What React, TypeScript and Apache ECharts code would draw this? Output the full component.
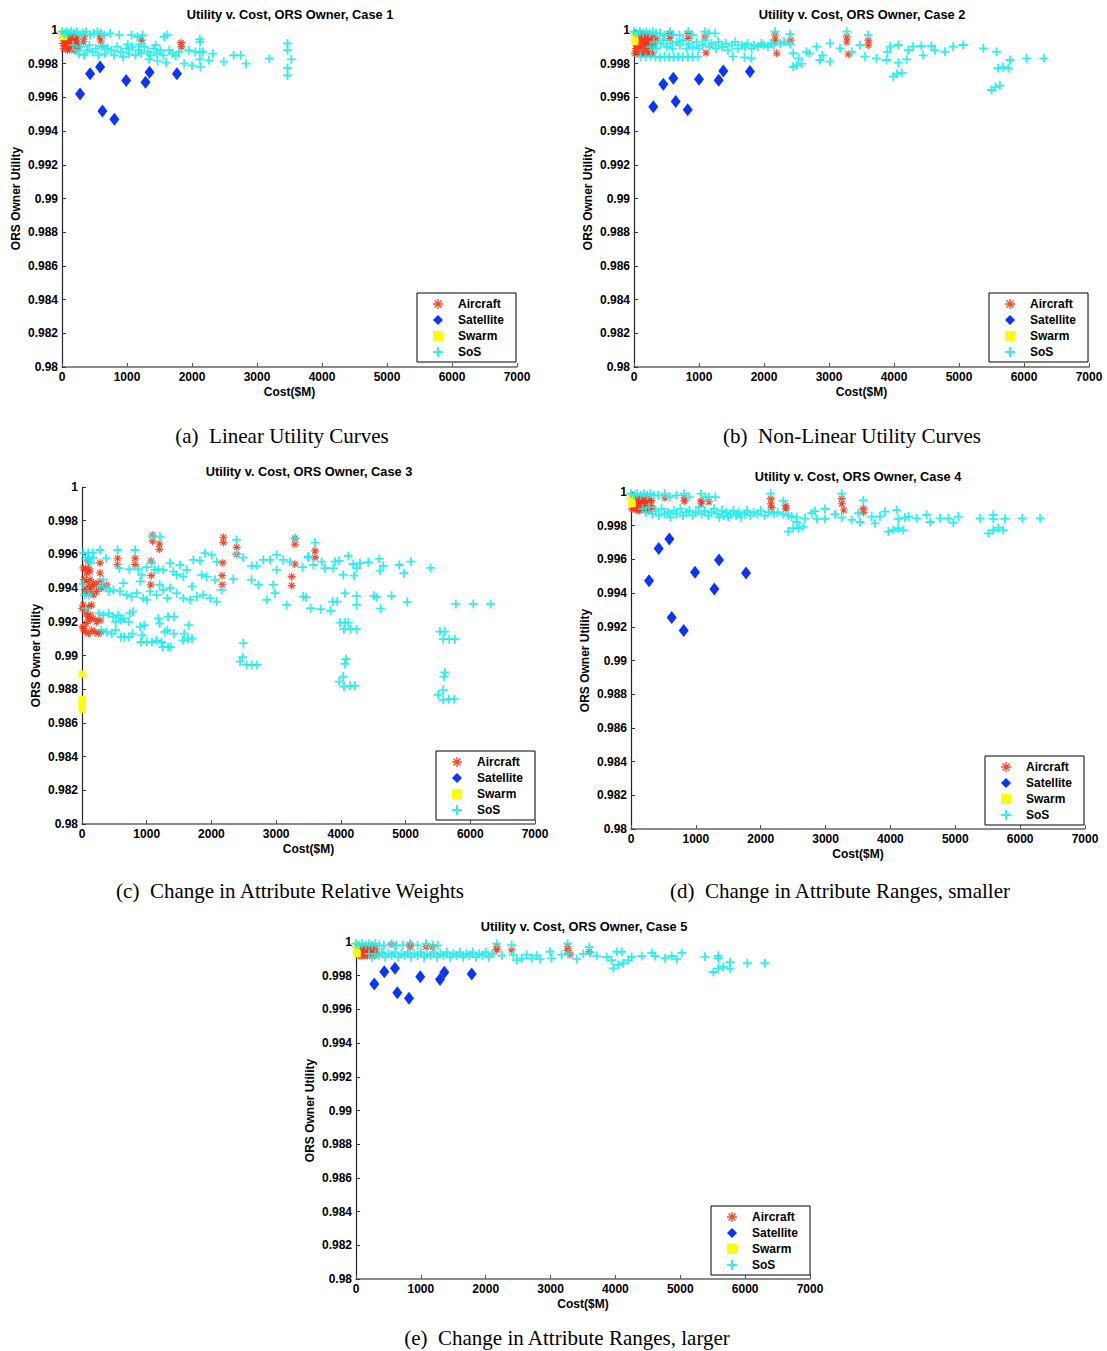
import React, { useEffect, useRef } from "react";
import * as echarts from "echarts";

// ---------------- DATA ----------------
const Y_MIN = 0.98;
const Y_MAX = 1;
const Y_STEP = 0.002;
const X_MIN = 0;
const X_MAX = 7000;
const X_STEP = 1000;

const TITLES = [
  "Utility v. Cost, ORS Owner, Case 1",
  "Utility v. Cost, ORS Owner, Case 2",
  "Utility v. Cost, ORS Owner, Case 3",
  "Utility v. Cost, ORS Owner, Case 4",
  "Utility v. Cost, ORS Owner, Case 5",
];
const CAPTIONS = [
  "(a)\u00a0 Linear Utility Curves",
  "(b)\u00a0 Non-Linear Utility Curves",
  "(c)\u00a0 Change in Attribute Relative Weights",
  "(d)\u00a0 Change in Attribute Ranges, smaller",
  "(e)\u00a0 Change in Attribute Ranges, larger",
];
const SERIES_NAMES = ["Aircraft", "Satellite", "Swarm", "SoS"];

// ---- (a) ----
const A_AIRCRAFT = [[5,0.9997],[25,0.9995],[45,0.9992],[62,0.9990],[85,0.9988],[98,0.9996],[118,0.9994],[137,0.9991],[158,0.9989],[176,0.9995],[195,0.9993],[215,0.9990],[232,0.9992],[30,0.9989],[72,0.9994],[110,0.9989],[150,0.9996],[188,0.9988],[225,0.9995],[52,0.9997],[90,0.9991],[130,0.9993],[168,0.9991],[205,0.9996],[15,0.9992],[245,0.9990],[40,0.9996],[80,0.9993],[340,0.9996],[330,0.9993],[580,0.9996],[595,0.99935],[1225,0.9994],[1830,0.99925],[1835,0.9990]];
const A_SATELLITE = [[278,0.9962],[432,0.9974],[586,0.9978],[622,0.9952],[806,0.9947],[987,0.9970],[1285,0.9969],[1347,0.9975],[1768,0.9974]];
const A_SWARM = [[8,0.9998],[18,0.9997],[28,0.9996]];
const A_SOS = [[0,0.9999],[35,0.9998],[70,0.9999],[105,0.9998],[140,0.9999],[185,0.9998],[230,0.9999],[275,0.9997],[320,0.9998],[370,0.9999],[430,0.9997],[490,0.9998],[545,0.9999],[600,0.9998],[650,0.9997],[740,0.9998],[880,0.9997],[1070,0.9997],[1160,0.9996],[1240,0.9997],[1570,0.9996],[1620,0.9997],[2120,0.99945],[2125,0.9993],
  [170,0.9991],[210,0.9988],[260,0.9986],[290,0.9990],[340,0.9985],[385,0.9988],[420,0.9991],[470,0.9987],[520,0.9989],[560,0.9985],[610,0.9990],[660,0.9986],[700,0.9989],[760,0.9988],[800,0.9985],[850,0.9990],[900,0.9987],[940,0.9984],[990,0.9989],[1030,0.9986],[1080,0.9990],[1130,0.9985],[1180,0.9988],[1220,0.9986],[1270,0.9990],[1320,0.9987],[1360,0.9985],[1410,0.9989],[1460,0.9986],[1510,0.9988],[1560,0.9985],[1650,0.9988],[1700,0.9986],[1750,0.99846],[1800,0.9987],[1880,0.9980],[1950,0.9988],[2000,0.9979],[2050,0.9987],[2130,0.9978],[2120,0.99871],[2120,0.99826],[2170,0.9987],[2260,0.9982],[2320,0.9986],[2490,0.99812],[2640,0.9985],[2750,0.9985],[2830,0.9980],[3190,0.9983],[3470,0.9992],[3470,0.9988],[3470,0.99774],[3470,0.9973],[3530,0.99826],[1600,0.99806],[1470,0.99818],[1340,0.99826],[640,0.99905],[1010,0.99915],[1440,0.9991],[1190,0.99915]];

// ---- (b) ----
const B_AIRCRAFT = [[5,0.9997],[20,0.9994],[40,0.9991],[60,0.9996],[80,0.9993],[100,0.9990],[120,0.9997],[140,0.9994],[160,0.9991],[180,0.9996],[200,0.9993],[220,0.9990],[240,0.9995],[30,0.9989],[70,0.9990],[110,0.9995],[150,0.9998],[190,0.9989],[230,0.9992],[50,0.9993],[90,0.9998],[130,0.9992],[170,0.9994],[210,0.9997],[250,0.9991],[275,0.9994],[300,0.9996],[320,0.9992],[290,0.9990],[335,0.9995],
  [10,0.99862],[50,0.9986],[90,0.99865],[130,0.9986],[170,0.99862],[210,0.9986],[250,0.99865],[280,0.9986],
  [554,0.9998],[554,0.9995],[835,0.9998],[835,0.9995],[1092,0.9996],[1107,0.99865],[2170,0.9997],[2170,0.9994],[2195,0.99862],[2410,0.9994],[3273,0.9996],[3273,0.9993],[3297,0.99856],[3604,0.9994],[3604,0.9991]];
const B_SATELLITE = [[297,0.99545],[451,0.99678],[605,0.99713],[641,0.99575],[826,0.99526],[1000,0.99708],[1303,0.99702],[1374,0.99757],[1784,0.99753]];
const B_SWARM = [[10,0.9997],[10,0.9995],[15,0.9993]];
const B_SOS = [[0,0.9999],[40,0.9998],[90,0.9999],[140,0.9998],[190,0.9999],[240,0.9998],[290,0.9999],[340,0.9998],[400,0.9998],[470,0.9997],[554,0.9999],[600,0.9997],[700,0.9997],[835,0.9999],[900,0.9997],[1092,0.9999],[1150,0.9998],[1250,0.9998],[2170,0.9999],[2400,0.99975],[3273,0.9999],[3604,0.9997],
  [255,0.9990],[305,0.9993],[345,0.9989],[410,0.9992],[445,0.9994],[505,0.9990],[560,0.9992],[595,0.9989],[655,0.9993],[705,0.9991],[745,0.9994],[810,0.9989],[845,0.9992],[905,0.9990],[960,0.9993],[995,0.9989],[1060,0.9991],[1095,0.9994],[1160,0.9990],[1195,0.9992],[1260,0.9989],[1295,0.9993],[1355,0.9990],[1410,0.9992],[1445,0.9988],[1505,0.9991],[1560,0.9993],[1595,0.9989],[1660,0.9991],[1705,0.9990],[1745,0.9992],[1810,0.9989],[1845,0.9991],[1905,0.9990],[1960,0.9992],[1995,0.9991],[2060,0.9990],[2105,0.9992],[2150,0.9991],[2250,0.9992],[2310,0.9993],
  [100,0.99842],[180,0.9984],[260,0.99845],[330,0.9984],[400,0.99838],[470,0.99842],[540,0.9984],[610,0.99836],[680,0.99842],[750,0.9984],[830,0.99838],[900,0.99842],[980,0.9984],[1525,0.99842],[1700,0.99838],[1806,0.99832],
  [2400,0.99917],[2450,0.99862],[2530,0.99832],[2655,0.99871],[2810,0.99901],[3015,0.99921],[3015,0.99812],[2860,0.99822],[3170,0.99891],[3475,0.99911],[3550,0.99842],[3730,0.99832],[3885,0.99822],[3940,0.99901],[4065,0.99911],[4065,0.99806],[4195,0.99826],[4220,0.99881],[4295,0.99901],[4420,0.99905],[4575,0.99905],[4630,0.99881],[4785,0.99871],[4910,0.99901],[5065,0.99911],[5375,0.99891],[5580,0.99871],[5600,0.99773],[5680,0.9978],[5760,0.99773],[5785,0.99822],[6040,0.99832],[6305,0.99832],[5500,0.99644],[5560,0.9966],[5630,0.9967],[2450,0.99782],[2500,0.9979],[2580,0.998],[3990,0.99723],[4045,0.9974],[4120,0.99745],[2700,0.9986],[2900,0.9985],[3350,0.9987],[3900,0.9987],[4450,0.9985]];

// ---- (c) ----
const C_AIRCRAFT = [[20,0.9952],[50,0.9951],[72,0.9949],[100,0.9952],[124,0.9950],[30,0.9945],[60,0.9944],[90,0.9942],[124,0.9945],[150,0.9941],[175,0.9943],[226,0.9942],[278,0.9944],[304,0.9940],[40,0.9939],[72,0.9937],[124,0.9939],[175,0.9936],[226,0.9938],[20,0.9930],[50,0.9928],[100,0.9929],[150,0.9930],[60,0.9925],[90,0.9923],[110,0.9921],[72,0.9919],[124,0.9924],[175,0.9922],[226,0.9920],[278,0.9921],[20,0.9916],[50,0.9914],[100,0.9913],[150,0.9915],[200,0.9914],[250,0.9913],[300,0.9914],[5,0.9928],[10,0.9917],[90,0.9956],[278,0.9955],[278,0.9949],
  [380,0.99419],[550,0.99577],[550,0.9954],[820,0.99577],[820,0.9954],[1090,0.99715],[1090,0.9968],[1195,0.99662],[1195,0.9963],[1070,0.99561],[1070,0.99474],[1060,0.9942],[2185,0.99702],[2185,0.9967],[2170,0.99551],[2165,0.99474],[2165,0.9942],[2390,0.99642],[2390,0.996],[3290,0.99696],[3290,0.9966],[3290,0.99543],[3240,0.99468],[3240,0.99415],[3600,0.99622],[3600,0.99581]];
const C_SATELLITE = [];
const C_SWARM = [[0,0.9889],[0,0.9874],[0,0.9871],[0,0.9868]];
const C_SOS = [[20,0.9961],[97,0.9961],[165,0.9961],[97,0.99583],[278,0.99626],[371,0.99577],[551,0.99626],[819,0.99626],[1092,0.99709],[1205,0.99705],[20,0.99425],[60,0.9957],[130,0.9955],[175,0.9958],[40,0.9936],[100,0.9936],[60,0.9928],
  [576,0.99518],[731,0.99512],[870,0.99512],[922,0.99478],[1000,0.99524],[1077,0.99548],[1128,0.99508],[1179,0.99512],[1256,0.99508],[1360,0.99548],[1411,0.99498],[1514,0.99537],[1618,0.99508],[1720,0.99567],[1823,0.99563],[1900,0.99607],[2004,0.99597],[2081,0.99557],[1463,0.99478],[1565,0.99468],[1849,0.99478],[1927,0.99468],[2055,0.99449],[2158,0.99389],[2338,0.99453],[2390,0.99686],[2390,0.99603],[2492,0.99581],[2622,0.99532],[2699,0.99532],[2622,0.99449],[2724,0.99419],[2801,0.99567],[2905,0.99567],[3008,0.99597],[3008,0.99508],[3110,0.99567],[3214,0.99557],[2956,0.99419],[2982,0.9937],[2853,0.9933],[3163,0.993],[3419,0.9935],[3497,0.99587],[3291,0.99696],
  [278,0.99409],[381,0.9940],[484,0.99389],[587,0.9938],[690,0.9936],[767,0.9935],[845,0.9937],[947,0.9934],[1051,0.9938],[1154,0.9936],[1256,0.99389],[1360,0.9940],[1463,0.9937],[1565,0.9934],[1669,0.9933],[1772,0.9935],[1874,0.9936],[1978,0.9934],[2081,0.9932],[330,0.9945],[640,0.9943],[900,0.9944],[1200,0.9942],[1700,0.9941],[420,0.9938],[1000,0.9933],[1320,0.9934],
  [260,0.9925],[330,0.9924],[410,0.9925],[480,0.9923],[560,0.9924],[640,0.9922],[740,0.9925],[790,0.9926],[720,0.9920],[600,0.9921],[520,0.9920],[900,0.9917],[960,0.9918],[1180,0.9922],[1330,0.9923],[1420,0.9923],[1650,0.9918],[1280,0.9914],[1320,0.9915],[1420,0.9913],[1200,0.9919],
  [300,0.9915],[380,0.9914],[460,0.9913],[520,0.9915],[600,0.9911],[650,0.9911],[720,0.9911],[780,0.9913],[930,0.9912],[910,0.9908],[1000,0.9908],[1080,0.9908],[1150,0.9909],[1230,0.9908],[1250,0.9905],[1330,0.9905],[1370,0.9905],[1560,0.9909],[1580,0.9913],[1640,0.9910],[1700,0.9910],
  [2492,0.99073],[2441,0.98964],[2482,0.9899],[2544,0.98944],[2622,0.98944],[2699,0.98944],
  [3600,0.9967],[3497,0.99581],[3574,0.99537],[3409,0.99524],[3703,0.99557],[3754,0.99518],[3909,0.99557],[3976,0.99563],[4115,0.99591],[4192,0.99543],[4244,0.99518],[4295,0.99548],[4424,0.99554],[4594,0.99573],[4656,0.99532],[4604,0.99504],[4902,0.99537],[4975,0.99488],[5083,0.99557],[5387,0.9952],[3883,0.99518],[4037,0.99478],[4202,0.99474],
  [3461,0.99346],[3533,0.99281],[3688,0.99275],[3842,0.99265],[3873,0.9932],[3945,0.9932],[4063,0.9937],[4244,0.99354],[4244,0.993],[4511,0.99354],[4553,0.99346],[4615,0.99278],[4785,0.99354],[5026,0.99318],[5778,0.99306],[6046,0.99306],[6314,0.99306],
  [3986,0.99195],[4063,0.99195],[4115,0.99195],[4048,0.99156],[4151,0.99156],[4244,0.99156],[5531,0.99142],[5608,0.99142],[5582,0.99097],[5675,0.99097],[5763,0.99097],
  [4079,0.98978],[4063,0.9895],[4037,0.98875],[3976,0.98845],[4048,0.98816],[4141,0.9882],[4218,0.9882],[5608,0.98899],[5593,0.98875],[5582,0.98796],[5505,0.98767],[5582,0.98737],[5670,0.98741],[5752,0.98741]];

// ---- (d) ----
const D_AIRCRAFT = [[5,0.9996],[25,0.9993],[45,0.9990],[65,0.9995],[85,0.9992],[105,0.9989],[125,0.9996],[145,0.9993],[165,0.9990],[185,0.9995],[205,0.9992],[225,0.9989],[245,0.9994],[265,0.9991],[285,0.9995],[305,0.9992],[325,0.9990],[35,0.9995],[75,0.9990],[115,0.9993],[155,0.9996],[195,0.9990],[235,0.9996],[275,0.9989],[15,0.9990],[55,0.9997],[95,0.9994],[135,0.9989],[175,0.9992],[215,0.9995],[255,0.9990],[315,0.9995],
  [524,0.99966],[822,0.99966],[822,0.99947],[1079,0.99947],[1079,0.9993],[1203,0.99942],[2154,0.99962],[2154,0.9993],[2170,0.99907],[2386,0.99919],[2386,0.999],[3249,0.99962],[3249,0.9993],[3280,0.99893],[3582,0.99903],[3582,0.99879]];
const D_SATELLITE = [[278,0.99474],[427,0.99664],[591,0.99721],[628,0.99255],[813,0.99178],[987,0.99524],[1285,0.99425],[1357,0.99597],[1773,0.9952]];
const D_SWARM = [[10,0.9997],[10,0.9994],[20,0.9993]];
const D_SOS = [[0,0.9999],[45,0.9998],[95,0.9999],[150,0.9998],[200,0.9999],[250,0.9998],[300,0.9999],[350,0.9998],[420,0.9998],[524,0.9999],[600,0.9997],[700,0.9998],[822,0.9999],[900,0.9997],[1079,0.9999],[1150,0.9997],[1203,0.9997],[1300,0.9997],[2154,0.9999],[2348,0.99947],[3249,0.9999],[3582,0.9995],
  [180,0.9990],[230,0.9988],[280,0.9991],[330,0.9987],[380,0.9989],[430,0.9986],[470,0.9990],[520,0.9987],[570,0.9988],[610,0.9985],[660,0.9989],[700,0.9987],[760,0.9990],[800,0.9986],[850,0.9988],[900,0.9989],[950,0.9986],[1000,0.9988],[1050,0.9991],[1090,0.9987],[1140,0.9989],[1190,0.9986],[1240,0.9988],[1280,0.9990],[1330,0.9987],[1360,0.9985],[1400,0.9989],[1430,0.9986],[1470,0.9988],[1500,0.9985],[1540,0.9987],[1580,0.9989],[1620,0.9986],[1660,0.9988],[1700,0.9985],[1750,0.9987],[1790,0.9989],[1840,0.9986],[1890,0.9988],[1950,0.9987],[2000,0.9989],[2060,0.9986],[2120,0.9988],[2200,0.9987],[2260,0.9988],
  [2348,0.99868],[2425,0.9986],[2478,0.99854],[2555,0.9985],[2425,0.99765],[2502,0.99785],[2580,0.99785],[2657,0.99794],[2555,0.99822],[2683,0.99844],[2786,0.99874],[2837,0.99887],[2991,0.99899],[2991,0.9984],[2868,0.9984],[3146,0.99868],[3249,0.99848],[3403,0.99834],[3505,0.99874],[3531,0.99822],[3711,0.99854],[3762,0.99814],[3839,0.99854],[3917,0.99883],[3969,0.99765],[4045,0.99774],[4120,0.99785],[4199,0.99774],[4097,0.99893],[4120,0.9984],[4222,0.99848],[4281,0.99854],[4405,0.99844],[4559,0.99864],[4611,0.99822],[4765,0.99844],[4893,0.99844],[4970,0.99818],[5047,0.99854],[5382,0.99844],[5586,0.99864],[5586,0.99841],[5510,0.99755],[5586,0.99774],[5663,0.99787],[5740,0.99774],[5766,0.99841],[6034,0.99844],[6307,0.99844]];

// ---- (e) ----
const E_AIRCRAFT = [[5,0.9997],[25,0.9994],[45,0.9992],[65,0.9996],[85,0.9993],[105,0.9995],[125,0.9992],[145,0.9996],[165,0.9993],[185,0.9995],[205,0.9992],[225,0.9996],[245,0.9993],[265,0.9995],[285,0.9992],[305,0.9994],[320,0.9993],[35,0.9995],[75,0.9992],[115,0.9997],[155,0.9994],[195,0.9997],[235,0.9994],[275,0.9997],[15,0.9993],[55,0.9994],[95,0.9992],[135,0.9994],[175,0.9992],[215,0.9994],[255,0.9992],[295,0.9996],
  [550,0.99986],[833,0.99986],[833,0.9997],[1079,0.99972],[1182,0.99972],[2170,0.99972],[2170,0.99953],[2401,0.99953],[3264,0.99972],[3264,0.9995],[3300,0.99925],[3597,0.99942]];
const E_SATELLITE = [[282,0.99751],[436,0.99824],[601,0.99844],[637,0.99699],[817,0.99666],[991,0.99794],[1295,0.99778],[1362,0.9982],[1784,0.9981]];
const E_SWARM = [[10,0.9998],[10,0.9995],[20,0.9993]];
const E_SOS = [[0,0.9999],[45,0.9998],[95,0.9999],[150,0.9998],[200,0.9999],[250,0.9998],[300,0.9999],[360,0.9998],[430,0.9998],[550,0.9999],[620,0.9998],[720,0.9998],[833,0.9999],[950,0.9998],[1079,0.9999],[1182,0.9998],[1260,0.9998],[2170,0.9999],[2401,0.99982],[3264,0.9999],[3597,0.9997],
  [200,0.9993],[250,0.9991],[300,0.9993],[350,0.9992],[400,0.9994],[450,0.9991],[500,0.9993],[550,0.9992],[600,0.9994],[650,0.9991],[700,0.9993],[750,0.9992],[800,0.9994],[850,0.9991],[900,0.9993],[950,0.9992],[1000,0.9994],[1050,0.9991],[1100,0.9993],[1150,0.9992],[1200,0.9994],[1250,0.9991],[1300,0.9993],[1350,0.9992],[1400,0.9994],[1450,0.9991],[1500,0.9993],[1550,0.9992],[1600,0.9994],[1650,0.9991],[1700,0.9993],[1750,0.9992],[1800,0.9994],[1850,0.9991],[1900,0.9993],[1950,0.9992],[2000,0.9994],[2050,0.9991],[2100,0.9993],[2250,0.9992],
  [2425,0.99925],[2478,0.99893],[2555,0.99903],[2632,0.99925],[2709,0.99903],[2786,0.9992],[2837,0.99898],[2991,0.99942],[3017,0.99903],[3170,0.99925],[3273,0.9993],[3403,0.99898],[3505,0.9993],[3608,0.99935],[3711,0.99918],[3865,0.99911],[3942,0.99893],[4020,0.99942],[4097,0.99942],[3968,0.99844],[4045,0.99864],[4120,0.99874],[4199,0.99893],[4251,0.99911],[4405,0.99917],[4559,0.99935],[4611,0.99917],[4765,0.99904],[4868,0.99917],[4945,0.99898],[5022,0.99935],[5382,0.99912],[5586,0.99918],[5586,0.99904],[5510,0.99822],[5586,0.99842],[5663,0.99852],[5766,0.9988],[5766,0.99842],[6034,0.99874],[6307,0.99874]];

const PANEL_DATA = [
  [A_AIRCRAFT, A_SATELLITE, A_SWARM, A_SOS],
  [B_AIRCRAFT, B_SATELLITE, B_SWARM, B_SOS],
  [C_AIRCRAFT, C_SATELLITE, C_SWARM, C_SOS],
  [D_AIRCRAFT, D_SATELLITE, D_SWARM, D_SOS],
  [E_AIRCRAFT, E_SATELLITE, E_SWARM, E_SOS],
];

// ---------------- LAYOUT / STYLE ----------------
const LAYOUT = [
  { left: 62, top: 30, width: 455, height: 337, legend: [417, 293], title: [290, 14], caption: [282, 436] },
  { left: 634, top: 30, width: 455, height: 337, legend: [989, 293], title: [862, 14], caption: [852, 436] },
  { left: 82, top: 487, width: 453, height: 337, legend: [436, 751], title: [309, 471], caption: [290, 891] },
  { left: 631, top: 492, width: 454, height: 337, legend: [985, 756], title: [858, 476], caption: [840, 891] },
  { left: 356, top: 942, width: 454, height: 337, legend: [711, 1206], title: [584, 926], caption: [567, 1338] },
];

const SANS = '"Liberation Sans", Arial, Helvetica, sans-serif';
const SERIF = '"Liberation Serif", "Times New Roman", Times, serif';

const PLUS = "path://M4,0H6V4H10V6H6V10H4V6H0V4H4Z";
const STAR = "path://M4.3,0H5.7V4.3H10V5.7H5.7V10H4.3V5.7H0V4.3H4.3Z M1,2L2,1L9,8L8,9Z M8,1L9,2L2,9L1,8Z";

const STYLES = [
  { symbol: STAR, size: 8, color: "#ff3414", opacity: 0.9 },
  { symbol: "diamond", size: [10, 13], color: "#0a35ff", opacity: 1 },
  { symbol: "rect", size: 7, color: "#ffff00", opacity: 1 },
  { symbol: PLUS, size: 9, color: "#17eef0", opacity: 0.9 },
];

function buildOption() {
  const grid: any[] = [];
  const xAxis: any[] = [];
  const yAxis: any[] = [];
  const legend: any[] = [];
  const series: any[] = [];
  const graphic: any[] = [];

  LAYOUT.forEach((L, i) => {
    grid.push({ left: L.left, top: L.top, width: L.width, height: L.height, containLabel: false });
    xAxis.push({
      type: "value",
      gridIndex: i,
      min: X_MIN,
      max: X_MAX,
      interval: X_STEP,
      name: "Cost($M)",
      nameLocation: "middle",
      nameGap: 19,
      nameTextStyle: { fontFamily: SANS, fontWeight: "bold", fontSize: 12, color: "#000" },
      axisLine: { show: true, onZero: false, lineStyle: { color: "#666", width: 1.5 } },
      axisTick: { show: true, inside: true, length: 4, lineStyle: { color: "#555" } },
      axisLabel: {
        fontFamily: SANS,
        fontWeight: "bold",
        fontSize: 12,
        color: "#000",
        margin: 4,
        showMinLabel: true,
        showMaxLabel: true,
        formatter: (v: number) => String(Math.round(v)),
      },
      splitLine: { show: false },
    });
    yAxis.push({
      type: "value",
      gridIndex: i,
      min: Y_MIN,
      max: Y_MAX,
      interval: Y_STEP,
      name: "ORS Owner Utility",
      nameLocation: "middle",
      nameGap: 40,
      nameTextStyle: { fontFamily: SANS, fontWeight: "bold", fontSize: 12, color: "#000" },
      axisLine: { show: true, onZero: false, lineStyle: { color: "#222", width: 1.2 } },
      axisTick: { show: true, inside: true, length: 4, lineStyle: { color: "#333" } },
      axisLabel: {
        fontFamily: SANS,
        fontWeight: "bold",
        fontSize: 12,
        color: "#000",
        margin: 4,
        showMinLabel: true,
        showMaxLabel: true,
        formatter: (v: number) => String(parseFloat(v.toFixed(3))),
      },
      splitLine: { show: false },
    });
    legend.push({
      orient: "vertical",
      left: L.legend[0],
      top: L.legend[1],
      padding: [4, 12, 3, 16],
      itemGap: 2,
      itemWidth: 10,
      itemHeight: 10,
      borderColor: "#000",
      borderWidth: 1,
      backgroundColor: "#fff",
      selectedMode: false,
      textStyle: { fontFamily: SANS, fontWeight: "bold", fontSize: 12, color: "#000", lineHeight: 14, padding: [0, 0, 0, 10] },
      data: SERIES_NAMES.map((n, k) => ({ name: n, icon: STYLES[k].symbol })),
    });
    SERIES_NAMES.forEach((n, k) => {
      const st = STYLES[k];
      series.push({
        name: n,
        type: "scatter",
        xAxisIndex: i,
        yAxisIndex: i,
        data: PANEL_DATA[i][k],
        symbol: st.symbol,
        symbolSize: st.size,
        itemStyle: { color: st.color, opacity: st.opacity },
        clip: false,
        z: 2 + k,
        silent: true,
      });
    });
    graphic.push({
      type: "text",
      x: L.title[0],
      y: L.title[1],
      style: {
        text: TITLES[i],
        fontFamily: SANS,
        fontWeight: "bold",
        fontSize: 12.8,
        fill: "#000",
        align: "center",
        verticalAlign: "middle",
        textAlign: "center",
        textVerticalAlign: "middle",
      },
    });
    graphic.push({
      type: "text",
      x: L.caption[0],
      y: L.caption[1],
      style: {
        text: CAPTIONS[i],
        fontFamily: SERIF,
        fontSize: 21,
        fill: "#000",
        align: "center",
        verticalAlign: "middle",
        textAlign: "center",
        textVerticalAlign: "middle",
      },
    });
  });

  return { animation: false, backgroundColor: "#fff", grid, xAxis, yAxis, legend, series, graphic };
}

export default function App() {
  const ref = useRef<HTMLDivElement | null>(null);
  useEffect(() => {
    if (!ref.current) return;
    const chart = echarts.init(ref.current, undefined, { renderer: "svg" });
    chart.setOption(buildOption() as any);
    return () => chart.dispose();
  }, []);
  return (
    <div
      ref={ref}
      style={{ position: "absolute", left: 0, top: 0, width: 1107, height: 1351, background: "#fff" }}
    />
  );
}
